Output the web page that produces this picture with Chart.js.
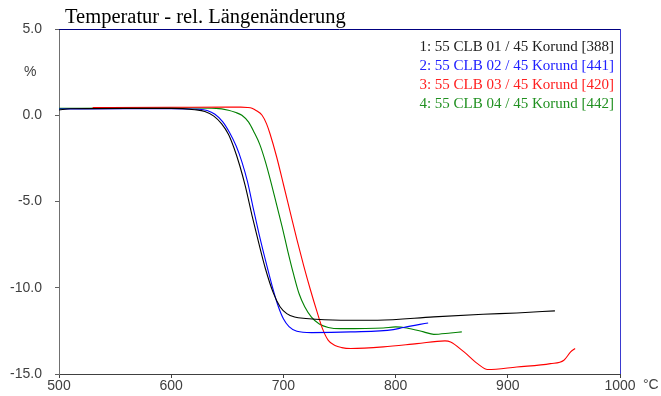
<!DOCTYPE html>
<html>
<head>
<meta charset="utf-8">
<script src="https://cdn.jsdelivr.net/npm/chart.js@4.4.1/dist/chart.umd.min.js"></script>
<style>
  html, body { margin: 0; padding: 0; background: #fff; }
  #wrap { width: 661px; height: 396px; }
</style>
</head>
<body>
<div id="wrap"><canvas id="dilChart" width="661" height="396"></canvas></div>
<script>
// Temperatur (°C) und rel. Längenänderung (%) je Probe
const temp1 = [500, 510, 560, 600, 621, 630, 638, 645, 651, 656, 661, 666, 672, 678, 684, 691, 697, 703, 710, 720, 751, 784, 834, 878, 908, 942];
const val1  = [0.30, 0.38, 0.40, 0.40, 0.32, 0.22, -0.05, -0.50, -1.10, -1.90, -2.90, -4.10, -5.80, -7.40, -8.90, -10.30, -11.10, -11.50, -11.70, -11.78, -11.88, -11.88, -11.69, -11.54, -11.46, -11.34];

const temp2 = [500, 560, 600, 625, 632, 639, 646, 652, 658, 663, 668, 673, 678, 684, 690, 695, 700, 705, 712, 725, 760, 798, 807, 829];
const val2  = [0.36, 0.38, 0.38, 0.35, 0.28, 0.06, -0.38, -1.00, -1.80, -2.70, -3.85, -5.35, -6.80, -8.40, -9.90, -11.00, -11.80, -12.25, -12.52, -12.60, -12.56, -12.43, -12.30, -12.04];

const temp3 = [530, 600, 650, 662, 668, 672, 676, 681, 685, 688, 694, 700, 706, 712, 718, 724, 730, 735, 740, 746, 752, 760, 789, 819, 844, 849, 861, 873, 882, 908, 938, 950, 956, 960];
const val3  = [0.45, 0.46, 0.47, 0.47, 0.45, 0.40, 0.26, 0.00, -0.50, -1.06, -2.42, -4.00, -5.60, -7.20, -8.70, -10.10, -11.40, -12.40, -13.05, -13.35, -13.47, -13.52, -13.43, -13.24, -13.08, -13.14, -13.72, -14.40, -14.74, -14.59, -14.40, -14.20, -13.72, -13.52];

const temp4 = [500, 560, 620, 640, 651, 657, 663, 669, 674, 679, 684, 689, 694, 699, 704, 709, 714, 719, 725, 732, 740, 751, 789, 800, 810, 825, 834, 849, 859];
const val4  = [0.40, 0.42, 0.42, 0.40, 0.29, 0.17, 0.00, -0.40, -1.00, -1.70, -2.70, -3.90, -5.20, -6.50, -7.90, -9.20, -10.35, -11.10, -11.70, -12.10, -12.30, -12.37, -12.33, -12.27, -12.33, -12.56, -12.70, -12.62, -12.56];

const seriesLabels = [
  "1: 55 CLB 01 / 45 Korund [388]",
  "2: 55 CLB 02 / 45 Korund [441]",
  "3: 55 CLB 03 / 45 Korund [420]",
  "4: 55 CLB 04 / 45 Korund [442]"
];
const lineColors = ["#000000", "#0000ff", "#ff0000", "#008000"];
const textColors = ["#202020", "#2020ff", "#ff2020", "#209020"];
const xTicks = [500, 600, 700, 800, 900, 1000];
const yTicks = [5, 0, -5, -10, -15];

function toPoints(xs, ys) {
  return xs.map((x, i) => ({ x: x, y: ys[i] }));
}

const allTemps = [temp1, temp2, temp3, temp4];
const allVals = [val1, val2, val3, val4];

const datasets = allTemps.map((t, i) => {
  return {
    label: seriesLabels[i],
    data: toPoints(t, allVals[i]),
    borderColor: lineColors[i],
    borderWidth: 1.1,
    pointRadius: 0,
    showLine: true,
    cubicInterpolationMode: "monotone",
    fill: false
  };
});

// title, legend text, unit labels and the blue frame on top/right
const decorPlugin = {
  id: "decor",
  afterDraw(chart) {
    const ctx = chart.ctx;
    const a = chart.chartArea;
    ctx.save();

    ctx.strokeStyle = "#000080";
    ctx.lineWidth = 1;
    ctx.beginPath();
    ctx.moveTo(a.left, a.top + 0.5);
    ctx.lineTo(a.right, a.top + 0.5);
    ctx.stroke();
    ctx.strokeStyle = "#3a3ad0";
    ctx.beginPath();
    ctx.moveTo(a.right + 0.5, a.top);
    ctx.lineTo(a.right + 0.5, a.bottom);
    ctx.stroke();

    ctx.fillStyle = "#000";
    ctx.font = "20.5px 'Liberation Serif', 'DejaVu Serif', serif";
    ctx.textAlign = "left";
    ctx.textBaseline = "alphabetic";
    ctx.fillText("Temperatur - rel. Längenänderung", 65, 23);

    ctx.font = "15px 'Liberation Serif', serif";
    ctx.textAlign = "right";
    ctx.textBaseline = "middle";
    seriesLabels.forEach((lbl, i) => {
      ctx.fillStyle = textColors[i];
      ctx.fillText(lbl, a.right - 6, 47 + i * 19);
    });

    ctx.font = "14px 'Liberation Sans', Arial, sans-serif";
    ctx.fillStyle = "#404040";
    ctx.textAlign = "left";
    ctx.fillText("%", 24, 72);
    ctx.fillText("°C", 643, 385);
    ctx.restore();
  }
};

const ctx = document.getElementById("dilChart").getContext("2d");
new Chart(ctx, {
  type: "scatter",
  data: { datasets: datasets },
  options: {
    responsive: false,
    animation: false,
    layout: { padding: { top: 29, right: 41, left: 0, bottom: 0 } },
    plugins: {
      legend: { display: false },
      title: { display: false },
      tooltip: { enabled: false }
    },
    scales: {
      x: {
        type: "linear",
        min: 500,
        max: 1000,
        afterBuildTicks: axis => { axis.ticks = xTicks.map(v => ({ value: v })); },
        afterFit: axis => { axis.height = 22; },
        grid: { drawOnChartArea: false, drawTicks: true, tickLength: 4, color: "#404040" },
        border: { color: "#404040", width: 1 },
        ticks: {
          padding: 0,
          color: "#404040",
          font: { family: "'Liberation Sans', Arial, sans-serif", size: 14 },
          callback: v => String(v)
        }
      },
      y: {
        type: "linear",
        min: -15,
        max: 5,
        afterBuildTicks: axis => { axis.ticks = yTicks.map(v => ({ value: v })); },
        afterFit: axis => { axis.width = 59; },
        grid: { drawOnChartArea: false, drawTicks: true, tickLength: 4, color: "#606060" },
        border: { color: "#707070", width: 1 },
        ticks: {
          padding: 13,
          color: "#404040",
          font: { family: "'Liberation Sans', Arial, sans-serif", size: 14 },
          callback: v => v.toFixed(1)
        }
      }
    }
  },
  plugins: [decorPlugin]
});
</script>
</body>
</html>
